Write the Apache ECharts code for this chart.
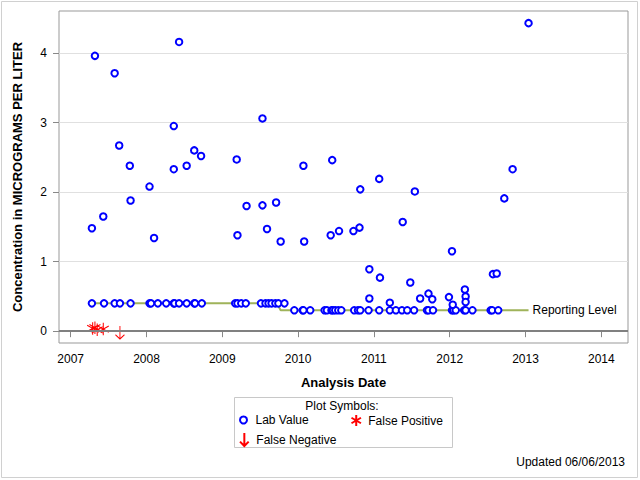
<!DOCTYPE html>
<html><head><meta charset="utf-8">
<script src="https://cdn.jsdelivr.net/npm/echarts@6/dist/echarts.min.js"></script>
<style>html,body{margin:0;padding:0;background:#fff}#c{width:640px;height:480px}</style>
</head><body><div id="c"></div>
<script>
// ---- data ----
const xTicks = [2007, 2008, 2009, 2010, 2011, 2012, 2013, 2014];
const yTicks = [0, 1, 2, 3, 4];

const labDates = [
  // values at 0.4
  2007.28, 2007.44, 2007.58, 2007.65, 2007.79, 2008.04, 2008.06, 2008.15, 2008.26, 2008.36,
  2008.37, 2008.43, 2008.53, 2008.63, 2008.64, 2008.73, 2009.17, 2009.20, 2009.25, 2009.31,
  2009.51, 2009.57, 2009.61, 2009.65, 2009.70, 2009.74, 2009.82,
  // values at 0.3
  2009.95, 2010.06, 2010.07, 2010.16, 2010.35, 2010.38, 2010.44, 2010.46, 2010.49, 2010.53,
  2010.57, 2010.74, 2010.79, 2010.82, 2010.93, 2011.07, 2011.21, 2011.29, 2011.37, 2011.44,
  2011.53, 2011.70, 2011.72, 2011.78, 2012.03, 2012.05, 2012.08, 2012.19, 2012.21, 2012.30,
  2012.54, 2012.56, 2012.64,
  // mid values
  2010.94, 2011.08, 2010.94, 2011.21, 2011.48, 2011.61, 2011.72, 2011.77, 2011.99, 2012.04,
  2012.20, 2012.21, 2012.21, 2012.57, 2012.62,
  // high values
  2007.28, 2007.32, 2007.43, 2007.58, 2007.64, 2007.78, 2007.79, 2008.04, 2008.10, 2008.36,
  2008.36, 2008.43, 2008.53, 2008.63, 2008.72, 2009.19, 2009.20, 2009.32, 2009.53, 2009.53,
  2009.59, 2009.71, 2009.77, 2010.07, 2010.08, 2010.43, 2010.45, 2010.54, 2010.73, 2010.81,
  2010.82, 2011.07, 2011.38, 2011.54, 2012.03, 2012.72, 2012.83, 2013.04
];
const labValues = [
  0.4, 0.4, 0.4, 0.4, 0.4, 0.4, 0.4, 0.4, 0.4, 0.4,
  0.4, 0.4, 0.4, 0.4, 0.4, 0.4, 0.4, 0.4, 0.4, 0.4,
  0.4, 0.4, 0.4, 0.4, 0.4, 0.4, 0.4,
  0.3, 0.3, 0.3, 0.3, 0.3, 0.3, 0.3, 0.3, 0.3, 0.3,
  0.3, 0.3, 0.3, 0.3, 0.3, 0.3, 0.3, 0.3, 0.3, 0.3,
  0.3, 0.3, 0.3, 0.3, 0.3, 0.3, 0.3, 0.3, 0.3, 0.3,
  0.3, 0.3, 0.3,
  0.89, 0.77, 0.47, 0.41, 0.70, 0.47, 0.54, 0.46, 0.49, 0.38,
  0.60, 0.50, 0.42, 0.82, 0.83,
  1.48, 3.96, 1.65, 3.71, 2.67, 2.38, 1.88, 2.08, 1.34, 2.95,
  2.33, 4.16, 2.38, 2.60, 2.52, 2.47, 1.38, 1.80, 3.06, 1.81,
  1.47, 1.85, 1.29, 2.38, 1.29, 1.38, 2.46, 1.44, 1.44, 1.49,
  2.04, 2.19, 1.57, 2.01, 1.15, 1.91, 2.33, 4.43
];

const fpDates = [2007.29, 2007.32, 2007.35, 2007.43];
const fpValues = [0.04, 0.05, 0.02, 0.03];

const fnDates = [2007.65];
const fnValues = [-0.02];

const rlDates = [2007.28, 2009.72, 2009.77, 2013.04];
const rlValues = [0.4, 0.4, 0.3, 0.3];

// ---- chart ----
const zip = (a, b) => a.map((v, i) => [v, b[i]]);
const FONT = '"Liberation Sans", Arial, sans-serif';
const starPath = 'path://M5,0L5,10M0.7,2.5L9.3,7.5M0.7,7.5L9.3,2.5';
const arrowPath = 'path://M4,0L4,12M0,8L4,12L8,8';

const chart = echarts.init(document.getElementById('c'), null, { renderer: 'svg' });
const legendBase = {
  orient: 'horizontal', padding: 0, itemGap: 0, selectedMode: false,
  textStyle: { fontSize: 12, color: '#000', fontFamily: FONT }
};
chart.setOption({
  animation: false,
  textStyle: { fontFamily: FONT },
  grid: { left: 59, right: 12, top: 11, bottom: 137, show: true, borderColor: '#999', borderWidth: 1 },
  xAxis: {
    type: 'value', min: 2006.846, max: 2014.352,
    name: 'Analysis Date', nameLocation: 'middle', nameGap: 33,
    nameTextStyle: { fontWeight: 'bold', fontSize: 13, color: '#000', fontFamily: FONT },
    axisLine: { show: false },
    axisTick: { show: true, length: 6, lineStyle: { color: '#888' }, customValues: xTicks },
    axisLabel: { customValues: xTicks, formatter: v => String(v), margin: 10, fontSize: 12, color: '#000', fontFamily: FONT },
    splitLine: { show: false }
  },
  yAxis: {
    type: 'value', min: -0.17, max: 4.605,
    name: 'Concentration in MICROGRAMS PER LITER', nameLocation: 'middle', nameGap: 35,
    nameTextStyle: { fontWeight: 'bold', fontSize: 13, color: '#000', fontFamily: FONT },
    axisLine: { show: false },
    axisTick: { show: true, length: 6, lineStyle: { color: '#888' }, customValues: yTicks },
    axisLabel: { customValues: yTicks, formatter: v => String(v), margin: 12, fontSize: 12, color: '#000', fontFamily: FONT },
    splitLine: { show: true, lineStyle: { color: '#e0e0e0', width: 1 } }
  },
  legend: [
    Object.assign({}, legendBase, { data: ['Lab Value'], left: 239, top: 414, itemWidth: 14, itemHeight: 7 }),
    Object.assign({}, legendBase, { data: ['False Positive'], left: 350.5, top: 414, itemWidth: 14, itemHeight: 11 }),
    Object.assign({}, legendBase, { data: ['False Negative'], left: 239, top: 432, itemWidth: 14, itemHeight: 13 })
  ],
  graphic: [
    { type: 'rect', silent: true, shape: { x: 1.5, y: 1.5, width: 636, height: 476 }, style: { fill: 'none', stroke: '#d0d0d0', lineWidth: 1 } },
    { type: 'rect', silent: true, shape: { x: 234.5, y: 397.5, width: 218, height: 50 }, style: { fill: 'none', stroke: '#c8c8c8', lineWidth: 1 } },
    { type: 'text', silent: true, x: 342, y: 406, style: { text: 'Plot Symbols:', fill: '#000', fontSize: 12, fontFamily: FONT, align: 'center', verticalAlign: 'middle' } },
    { type: 'text', silent: true, x: 625, y: 462, style: { text: 'Updated 06/06/2013', fill: '#000', fontSize: 12, fontFamily: FONT, align: 'right', verticalAlign: 'middle' } }
  ],
  series: [
    {
      name: 'Reporting Level', type: 'line', data: zip(rlDates, rlValues),
      symbol: 'none', lineStyle: { color: '#9fb35a', width: 2 }, itemStyle: { color: '#9fb35a' },
      endLabel: { show: true, formatter: 'Reporting Level', distance: 4, fontSize: 12, color: '#000', fontFamily: FONT },
      silent: true, z: 2
    },
    {
      name: 'Lab Value', type: 'scatter', data: zip(labDates, labValues),
      symbol: 'emptyCircle', symbolSize: 6.5,
      itemStyle: { color: '#0000ff', borderColor: '#0000ff', borderWidth: 1.1, opacity: 1 },
      markLine: {
        silent: true, symbol: 'none', label: { show: false },
        lineStyle: { color: '#808080', width: 2, type: 'solid' },
        data: [{ yAxis: 0 }]
      },
      z: 3
    },
    {
      name: 'False Positive', type: 'scatter', data: zip(fpDates, fpValues),
      symbol: starPath, symbolSize: [11, 12.5],
      itemStyle: { color: 'rgba(0,0,0,0)', borderColor: '#ff0000', borderWidth: 1.1, opacity: 1 },
      z: 4
    },
    {
      name: 'False Negative', type: 'scatter', data: zip(fnDates, fnValues),
      symbol: arrowPath, symbolSize: [9, 13],
      itemStyle: { color: 'rgba(0,0,0,0)', borderColor: '#ff0000', borderWidth: 1.1, opacity: 1 },
      z: 4
    }
  ]
});
</script>
</body></html>
